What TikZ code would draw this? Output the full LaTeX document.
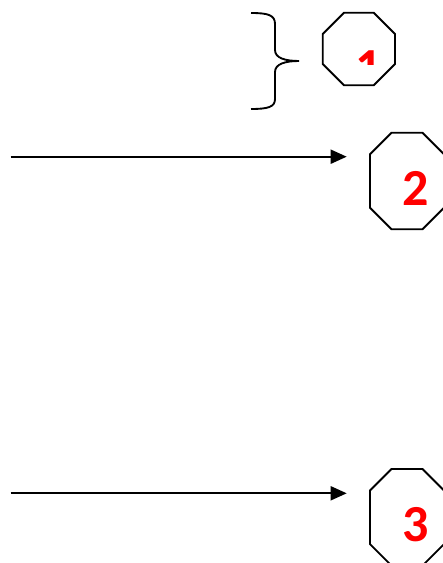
\documentclass[tikz,border=0pt]{standalone}
\usepackage{fontspec}
\setmainfont{Carlito}
\usetikzlibrary{arrows.meta}
\tikzset{
  ln/.style={line width=1.4pt, black},
  octa/.style={line width=1.4pt, black, line join=miter},
  arr/.style={ln, -{Triangle[length=12pt,width=10.5pt]}},
  digit/.style={text=red, font=\fontsize{39}{39}\selectfont\bfseries, inner sep=0pt, anchor=base}
}
\begin{document}
\begin{tikzpicture}[x=0.75pt,y=-0.75pt]
\useasboundingbox (0,0) rectangle (442,563);
% brace
\draw[ln] (251,13) .. controls (268,13) and (275,15) .. (275,24) -- (275,50)
  .. controls (275,58) and (285,61) .. (299,61)
  .. controls (285,61) and (275,64) .. (275,72) -- (275,99)
  .. controls (275,107) and (268,109) .. (251,109);
% octagon 1
\draw[octa] (344,12.7) -- (373.7,12.7) -- (395,34) -- (395,64) -- (373.7,85.3) -- (344,85.3) -- (322.7,64) -- (322.7,34) -- cycle;
\begin{scope}
\clip (322,0) rectangle (396,64.7);
\node[digit] (n1) at (369,85) {1};
\end{scope}
% octagon 2
\draw[octa] (391.5,132.7) -- (422.5,132.7) -- (444,154.2) -- (444,207.8) -- (422.5,229.3) -- (391.5,229.3) -- (370,207.8) -- (370,154.2) -- cycle;
\node[digit] (n2) at (415.5,205) {2};
% octagon 3
\draw[octa] (391.5,469) -- (422.5,469) -- (444,490.5) -- (444,544.1) -- (422.5,565.6) -- (391.5,565.6) -- (370,544.1) -- (370,490.5) -- cycle;
\node[digit] (n3) at (415.5,541.7) {3};
% arrows
\coordinate (a2s) at (10.7,156.7);
\coordinate (a2e) at (346.7,156.7);
\coordinate (a3s) at (10.7,493.3);
\coordinate (a3e) at (346.7,493.3);
\draw[arr] (a2s) -- (a2e);
\draw[arr] (a3s) -- (a3e);
\end{tikzpicture}
\end{document}
